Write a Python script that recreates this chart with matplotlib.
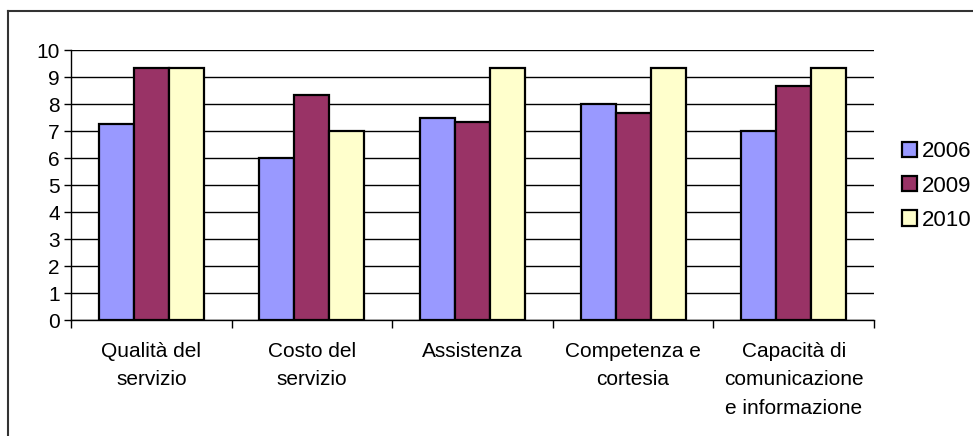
import numpy as np
import matplotlib.pyplot as plt
from matplotlib.lines import Line2D

categories = ["Qualità del\nservizio", "Costo del\nservizio", "Assistenza",
              "Competenza e\ncortesia", "Capacità di\ncomunicazione\ne informazione"]
years = ["2006", "2009", "2010"]
v2006 = [7.25, 6.0, 7.5, 8.0, 7.0]
v2009 = [9.33, 8.33, 7.33, 7.67, 8.67]
v2010 = [9.33, 7.0, 9.33, 9.33, 9.33]
colors = ["#9999FF", "#993366", "#FFFFCC"]

plt.rcParams['font.family'] = ['Liberation Sans', 'DejaVu Sans']

fig = plt.figure(figsize=(9.73, 4.36), dpi=100)
ax = fig.add_axes([71 / 973, 1 - 320 / 436, (874 - 71) / 973, 270 / 436])

x = np.arange(len(categories))
w = 0.218
for i, (vals, c, lab) in enumerate(zip([v2006, v2009, v2010], colors, years)):
    ax.bar(x + (i - 1) * w, vals, w, color=c, edgecolor='black', linewidth=1.6,
           label=lab, zorder=3)

ax.set_xlim(-0.5, len(categories) - 0.5)
ax.set_ylim(0, 10)
ax.set_yticks(range(0, 11))
ax.tick_params(axis='y', labelsize=15, length=5, width=1, direction='out', pad=3)
ax.set_xticks(np.arange(-0.5, len(categories), 1.0))
ax.set_xticklabels([])
ax.tick_params(axis='x', length=6, width=1, direction='out')
ax.yaxis.grid(True, color='black', linewidth=1)
ax.set_axisbelow(True)
for s in ['top', 'right']:
    ax.spines[s].set_visible(False)
for s in ['left', 'bottom']:
    ax.spines[s].set_linewidth(1)

for xi, lab in zip(x, categories):
    ax.text(xi, -0.8, lab, ha='center', va='top', fontsize=15,
            linespacing=1.65, transform=ax.transData)

ax.legend(loc='center left', bbox_to_anchor=((902 - 71) / 803, (320 - 186) / 270),
          frameon=False, fontsize=16, handlelength=0.68, handleheight=0.68,
          handletextpad=0.2, labelspacing=0.6, borderaxespad=0, borderpad=0)

fig.add_artist(Line2D([8 / 973, 1], [1 - 11 / 436, 1 - 11 / 436], color='#333333', linewidth=1.5))
fig.add_artist(Line2D([8 / 973, 8 / 973], [0, 1 - 11 / 436], color='#333333', linewidth=1.5))

fig.savefig("out.png", dpi=100)
